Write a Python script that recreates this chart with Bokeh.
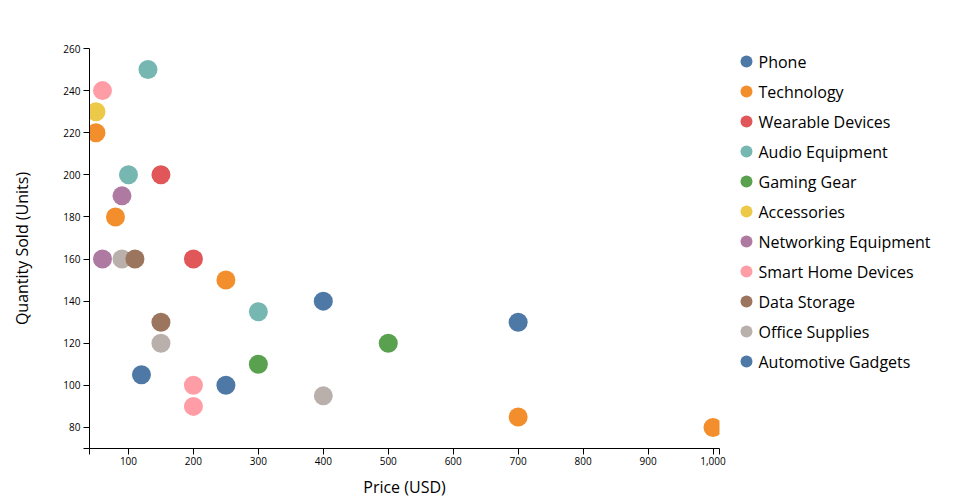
from bokeh.plotting import figure
from bokeh.models import Range1d, FixedTicker, ColumnDataSource
from bokeh.layouts import row
from bokeh.embed import file_html
from bokeh.resources import INLINE
from bokeh.core.properties import value

# ---- data ----
categories = ["Phone", "Technology", "Wearable Devices", "Audio Equipment", "Gaming Gear",
              "Accessories", "Networking Equipment", "Smart Home Devices", "Data Storage",
              "Office Supplies", "Automotive Gadgets"]
category_colors = ["#4e79a7", "#f28e2c", "#e15759", "#76b7b2", "#59a14f",
                   "#edc949", "#af7aa1", "#ff9da7", "#9c755f", "#bab0ab", "#4e79a7"]

point_category = ["Phone", "Phone", "Phone",
                  "Technology", "Technology", "Technology", "Technology", "Technology",
                  "Wearable Devices", "Wearable Devices",
                  "Audio Equipment", "Audio Equipment", "Audio Equipment",
                  "Gaming Gear", "Gaming Gear",
                  "Accessories",
                  "Networking Equipment", "Networking Equipment",
                  "Smart Home Devices", "Smart Home Devices", "Smart Home Devices",
                  "Office Supplies", "Office Supplies", "Office Supplies",
                  "Data Storage", "Data Storage",
                  "Automotive Gadgets"]
price = [700, 400, 250,
         1000, 700, 250, 80, 50,
         150, 200,
         130, 100, 300,
         500, 300,
         50,
         90, 60,
         60, 200, 200,
         90, 150, 400,
         110, 150,
         120]
quantity = [130, 140, 100,
            80, 85, 150, 180, 220,
            200, 160,
            250, 200, 135,
            120, 110,
            230,
            190, 160,
            240, 100, 90,
            160, 120, 95,
            160, 130,
            105]

x_tick_values = [100, 200, 300, 400, 500, 600, 700, 800, 900, 1000]
x_tick_labels = ["100", "200", "300", "400", "500", "600", "700", "800", "900", "1,000"]
y_tick_values = [80, 100, 120, 140, 160, 180, 200, 220, 240, 260]
y_tick_labels = ["80", "100", "120", "140", "160", "180", "200", "220", "240", "260"]

x_title = "Price (USD)"
y_title = "Quantity Sold (Units)"

# ---- chart ----
FONT = "Open Sans"
color_of = dict(zip(categories, category_colors))

x_min, x_max = min(price) - 10, max(price) + 10
y_min, y_max = min(quantity) - 10, max(quantity) + 10

H = 500
TOP, BOTTOM = 48, 52

p = figure(width=728, height=H, title=None,
           x_range=Range1d(x_min, x_max), y_range=Range1d(y_min, y_max),
           output_backend="svg", toolbar_location=None,
           min_border_left=89, min_border_right=9, min_border_top=TOP, min_border_bottom=BOTTOM)
p.grid.visible = False
p.outline_line_color = None
p.background_fill_color = "white"
p.border_fill_color = "white"

src = ColumnDataSource(dict(x=price, y=quantity,
                            color=[color_of[c] for c in point_category],
                            cat=point_category))
p.scatter("x", "y", source=src, size=19, fill_color="color", line_color=None)

# axes
p.xaxis.ticker = FixedTicker(ticks=[x_min] + x_tick_values + [x_max])
xo = dict(zip(x_tick_values, x_tick_labels))
xo[x_min] = ""
xo[x_max] = ""
p.xaxis.major_label_overrides = xo
p.yaxis.ticker = FixedTicker(ticks=[y_min] + y_tick_values)
yo = dict(zip(y_tick_values, y_tick_labels))
yo[y_min] = ""
p.yaxis.major_label_overrides = yo

for ax in (p.xaxis, p.yaxis):
    ax.axis_line_color = "black"
    ax.major_tick_line_color = "black"
    ax.major_tick_out = 6
    ax.major_tick_in = 0
    ax.minor_tick_line_color = None
    ax.major_label_text_font = FONT
    ax.major_label_text_font_size = "10px"
    ax.major_label_text_color = "black"
    ax.axis_label_text_font = FONT
    ax.axis_label_text_font_size = "16px"
    ax.axis_label_text_font_style = "normal"
    ax.axis_label_text_color = "black"

p.xaxis.axis_label = x_title
p.yaxis.axis_label = y_title
p.xaxis.major_label_standoff = 2
p.xaxis.axis_label_standoff = 8
p.yaxis.major_label_standoff = 3
p.yaxis.axis_label_standoff = 27

# ---- legend panel (frame aligned with the plot frame) ----
LW = 232
FRAME_H = H - TOP - BOTTOM
leg = figure(width=LW, height=H, title=None,
             x_range=Range1d(0, LW), y_range=Range1d(FRAME_H, 0),
             x_axis_location=None, y_axis_location=None,
             output_backend="svg", toolbar_location=None,
             min_border_left=0, min_border_right=0,
             min_border_top=TOP, min_border_bottom=BOTTOM)
leg.grid.visible = False
leg.outline_line_color = None
leg.background_fill_color = "white"
leg.border_fill_color = "white"

row_y = [13 + 30 * i for i in range(len(categories))]
lsrc = ColumnDataSource(dict(x=[18] * len(categories), tx=[30] * len(categories),
                             y=row_y, color=category_colors, label=categories))
leg.scatter("x", "y", source=lsrc, size=12, fill_color="color", line_color=None)
leg.text("tx", "y", text="label", source=lsrc, text_font=value(FONT),
         text_font_size="16px", text_baseline="middle", text_align="left", text_color="black")

layout = row(p, leg)
open("out.html", "w").write(file_html(layout, INLINE))
